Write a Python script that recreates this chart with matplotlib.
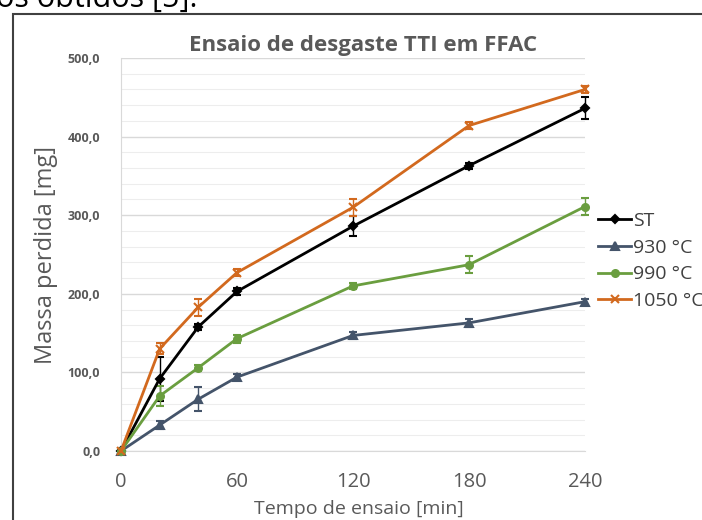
import matplotlib.pyplot as plt
from matplotlib.patches import Rectangle
from matplotlib.lines import Line2D
from matplotlib.ticker import MultipleLocator, FuncFormatter

# tempo de ensaio [min]
tempo = [0, 20, 40, 60, 120, 180, 240]

# massa perdida [mg] e desvio para cada condicao
st = [0, 92, 158, 203, 286, 363, 436]
st_err = [0, 28, 4, 4, 13, 4, 14]
t930 = [0, 33, 66, 94, 147, 163, 190]
t930_err = [0, 5, 15, 4, 4, 5, 4]
t990 = [0, 70, 106, 143, 210, 237, 311]
t990_err = [0, 13, 4, 5, 4, 11, 11]
t1050 = [0, 130, 183, 227, 310, 414, 460]
t1050_err = [0, 7, 11, 4, 11, 4, 4]

labels = ["ST", "930 °C", "990 °C", "1050 °C"]
xticks = [0, 60, 120, 180, 240]

plt.rcParams['font.family'] = ['Open Sans', 'DejaVu Sans']
W, H = 702, 520
fig = plt.figure(figsize=(W / 100, H / 100), dpi=100)
ax = fig.add_axes([121 / W, 1 - 451 / H, (585 - 121) / W, (451 - 58) / H])

series = [
    (st, st_err, "black", "D", 4.5),
    (t930, t930_err, "#44546A", "^", 5.5),
    (t990, t990_err, "#6A9E3F", "o", 5),
    (t1050, t1050_err, "#D2691E", "x", 6),
]
handles = []
for (vals, err, col, mk, ms), lab in zip(series, labels):
    ax.errorbar(tempo, vals, yerr=err, color=col, marker=mk, ms=ms, lw=2,
                mew=1.5, elinewidth=1, capsize=3, capthick=1,
                clip_on=False, zorder=3)
    handles.append(Line2D([], [], color=col, marker=mk, ms=ms, lw=2, mew=1.5,
                          label=lab))

ax.set_xlim(0, 240)
ax.set_ylim(0, 500)
ax.set_xticks(xticks)
ax.yaxis.set_major_locator(MultipleLocator(100))
ax.yaxis.set_minor_locator(MultipleLocator(20))
ax.yaxis.set_major_formatter(FuncFormatter(lambda v, p: f"{v:.1f}".replace(".", ",")))
ax.grid(axis='y', which='major', color='#D9D9D9', lw=1)
ax.grid(axis='y', which='minor', color='#EDEDED', lw=0.8)
ax.set_axisbelow(True)
for s in ['top', 'right']:
    ax.spines[s].set_visible(False)
for s in ['left', 'bottom']:
    ax.spines[s].set_color('#D9D9D9')
ax.tick_params(axis='both', which='both', length=0)
ax.tick_params(axis='y', labelsize=9, labelcolor='#595959', pad=15)
for t in ax.get_yticklabels():
    t.set_fontweight('bold')
ax.tick_params(axis='x', labelsize=14.5, labelcolor='#595959', pad=15)

# rotulo do eixo x posto a mao, logo abaixo dos ticks
fig.text(359 / W, 1 - 514 / H, "Tempo de ensaio [min]", ha='center',
         va='baseline', fontsize=14, color='#595959')
ax.set_ylabel("Massa perdida [mg]", fontsize=17, color='#595959', labelpad=7)
fig.text(363 / W, 1 - 45 / H, "Ensaio de desgaste TTI em FFAC", ha='center',
         va='center', fontsize=16, fontweight='bold', color='#595959')

leg = fig.legend(handles=handles, loc='center left',
                 bbox_to_anchor=(598 / W, 1 - 261 / H), frameon=False,
                 fontsize=14, handlelength=1.7, handletextpad=0.1,
                 labelspacing=0.45, borderaxespad=0, borderpad=0)
for txt in leg.get_texts():
    txt.set_color('#404040')

# moldura da imagem e texto cortado acima
fig.patches.append(Rectangle((13 / W, -0.1), 1.1, 1 - 14 / H + 0.1,
                             transform=fig.transFigure, fill=False,
                             edgecolor='#404040', lw=1.5))
fig.text(-4 / W, 1 - 7 / H, "os obtidos [5].", ha='left', va='baseline',
         fontsize=22, color='black')

fig.savefig("out.png", dpi=100)
